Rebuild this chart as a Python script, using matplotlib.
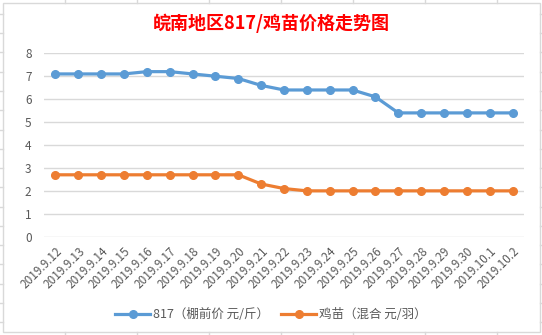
import matplotlib
matplotlib.use('Agg')
import matplotlib.pyplot as plt
from matplotlib.patches import Rectangle
from matplotlib.lines import Line2D

plt.rcParams['font.family'] = ['Noto Sans CJK SC', 'DejaVu Sans']

dates = ['2019.9.12', '2019.9.13', '2019.9.14', '2019.9.15', '2019.9.16', '2019.9.17',
         '2019.9.18', '2019.9.19', '2019.9.20', '2019.9.21', '2019.9.22', '2019.9.23',
         '2019.9.24', '2019.9.25', '2019.9.26', '2019.9.27', '2019.9.28', '2019.9.29',
         '2019.9.30', '2019.10.1', '2019.10.2']
price_817 = [7.1, 7.1, 7.1, 7.1, 7.2, 7.2, 7.1, 7.0, 6.9, 6.6, 6.4, 6.4,
             6.4, 6.4, 6.1, 5.4, 5.4, 5.4, 5.4, 5.4, 5.4]
price_chick = [2.7, 2.7, 2.7, 2.7, 2.7, 2.7, 2.7, 2.7, 2.7, 2.3, 2.1, 2.0,
               2.0, 2.0, 2.0, 2.0, 2.0, 2.0, 2.0, 2.0, 2.0]
y_ticks = [0, 1, 2, 3, 4, 5, 6, 7, 8]

BLUE = '#5B9BD5'
ORANGE = '#ED7D31'
GRID = '#D9D9D9'
TEXT = '#595959'

W, H = 542, 335
fig = plt.figure(figsize=(W / 100, H / 100), dpi=100)

# spreadsheet cell lines behind the chart
for y in [14, 33, 52, 72, 91, 110, 130, 149, 168, 187, 207, 226, 245, 264, 284, 303, 322]:
    fig.add_artist(Line2D([0, 2.5 / W], [1 - y / H, 1 - y / H], color=GRID, lw=1))
    fig.add_artist(Line2D([539.5 / W, 1], [1 - y / H, 1 - y / H], color=GRID, lw=1))
for x in [65, 137, 209, 281, 353, 425, 497]:
    fig.add_artist(Line2D([x / W, x / W], [1, 1 - 2.5 / H], color=GRID, lw=1))
    fig.add_artist(Line2D([x / W, x / W], [0, 3 / H], color=GRID, lw=1))
# chart border
fig.add_artist(Rectangle((2.5 / W, 3.5 / H), 537 / W, 329 / H, transform=fig.transFigure,
                         fill=False, edgecolor=GRID, lw=1))

ax = fig.add_axes([44 / W, (H - 236.7) / H, 480 / W, 183.4 / H])
x = list(range(len(dates)))
ax.plot(x, price_817, color=BLUE, lw=2.3, marker='o', markersize=5.5, label='817（棚前价 元/斤）')
ax.plot(x, price_chick, color=ORANGE, lw=2.3, marker='o', markersize=5.5, label='鸡苗（混合 元/羽）')

ax.set_xlim(-0.5, len(dates) - 0.5)
ax.set_ylim(0, 8)
ax.set_yticks(y_ticks)
ax.set_xticks(x)
ax.set_xticklabels(dates, rotation=45, ha='right', va='top', rotation_mode='anchor')
ax.tick_params(axis='both', length=0, labelsize=8.5, colors=TEXT)
ax.tick_params(axis='y', pad=9)
ax.tick_params(axis='x', pad=6)
ax.grid(axis='y', color=GRID, lw=1)
ax.set_axisbelow(True)
for s in ax.spines.values():
    s.set_visible(False)

fig.text(0.5, 1 - 23 / H, '皖南地区817/鸡苗价格走势图', ha='center', va='center',
         color='#FF0000', fontsize=13, fontweight='bold')

fig.legend(loc='center', bbox_to_anchor=(0.5, 1 - 315 / H), ncol=2, frameon=False,
           fontsize=9, labelcolor=TEXT, handlelength=2.8, columnspacing=1.0, handletextpad=0.2)

fig.savefig('out.png', dpi=100)
